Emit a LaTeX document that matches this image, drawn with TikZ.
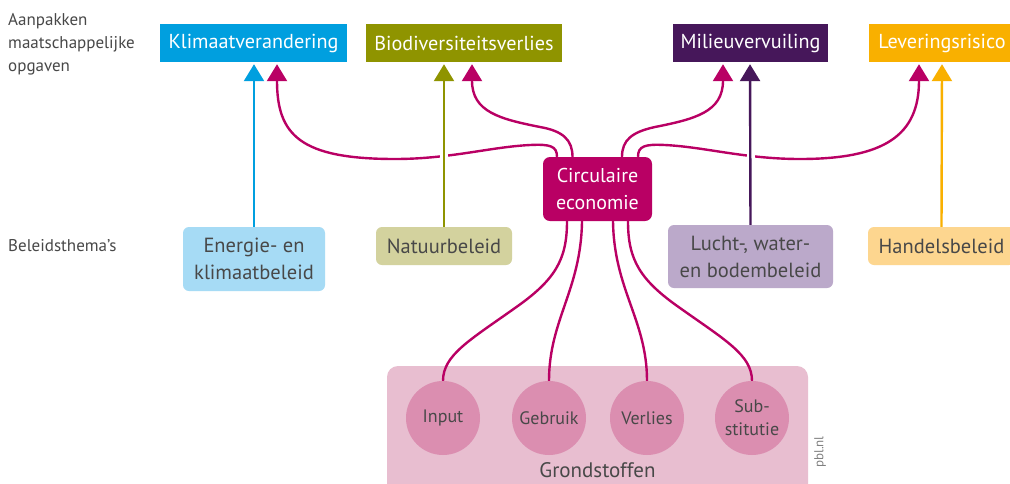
\documentclass[tikz,border=0pt]{standalone}
\usepackage{fontspec}
\setmainfont{PT Sans}
\usetikzlibrary{arrows.meta,calc}
\definecolor{cyanC}{RGB}{0,159,223}
\definecolor{oliveC}{RGB}{143,148,0}
\definecolor{purpleC}{RGB}{70,23,90}
\definecolor{orangeC}{RGB}{249,176,0}
\definecolor{magC}{RGB}{185,0,100}
\definecolor{lcyan}{RGB}{166,219,245}
\definecolor{lolive}{RGB}{211,210,158}
\definecolor{lpurple}{RGB}{187,169,202}
\definecolor{lorange}{RGB}{253,214,143}
\definecolor{lpink}{RGB}{232,190,208}
\definecolor{cpink}{RGB}{219,142,176}
\definecolor{txtgrey}{RGB}{72,72,72}
\tikzset{
  topbox/.style={draw=none, text=white, minimum height=38pt, inner sep=0pt,
    font=\fontsize{20.2}{24}\selectfont},
  polbox/.style={draw=none, rounded corners=6pt, text=txtgrey, align=center, inner sep=0pt,
    font=\fontsize{20.5}{27}\selectfont},
  circbox/.style={circle, fill=cpink, minimum size=74pt, inner sep=0pt, text=txtgrey,
    align=center, font=\fontsize{18}{23}\selectfont},
  sidelabel/.style={inner sep=0pt, text=txtgrey, align=left, font=\fontsize{17}{23}\selectfont},
  magline/.style={draw=magC, line width=2.4pt},
  magarrow/.style={magline, -{Triangle[width=20pt,length=17pt]}},
  polarrow/.style={line width=2.4pt, -{Triangle[width=20pt,length=17pt]}},
  gapline/.style={draw=white, line width=8pt}
}
\begin{document}
\begin{tikzpicture}[x=1pt,y=-1pt]
\clip (0,0) rectangle (1010,483);
\fill[white] (0,0) rectangle (1010,483);

% side labels
\node[sidelabel, anchor=north west] (lab1) at (8,13.5) {Aanpakken\\maatschappelijke\\opgaven};
\node[sidelabel, anchor=west] (lab2) at (8,246) {Beleidsthema’s};

% top boxes
\node[topbox, fill=cyanC, minimum width=187pt] (kv) at (253.5,43) {Klimaatverandering};
\node[topbox, fill=oliveC, minimum width=196pt] (bv) at (464,43) {Biodiversiteitsverlies};
\node[topbox, fill=purpleC, minimum width=155pt] (mv) at (750.5,43) {Milieuvervuiling};
\node[topbox, fill=orangeC, minimum width=146pt] (lr) at (942,43) {Leveringsrisico};

% policy boxes
\node[polbox, fill=lcyan, minimum width=142pt, minimum height=64pt] (eb) at (254,259) {Energie- en\\klimaatbeleid};
\node[polbox, fill=lolive, minimum width=136pt, minimum height=38pt] (nb) at (444,246) {Natuurbeleid};
\node[polbox, fill=lpurple, minimum width=165pt, minimum height=63pt] (lb) at (750.5,256.5) {Lucht-, water-\\en bodembeleid};
\node[polbox, fill=lorange, minimum width=147pt, minimum height=38pt] (hb) at (941.5,246) {Handelsbeleid};

% circular economy
\node[draw=none, fill=magC, rounded corners=7pt, minimum width=109pt, minimum height=64pt,
  text=white, align=center, inner sep=0pt, font=\fontsize{20}{27}\selectfont] (ce) at (597.5,189) {Circulaire\\economie};

% raw materials
\node[draw=none, fill=lpink, rounded corners=11pt, minimum width=421pt, minimum height=140pt, inner sep=0pt] (gs) at (597.5,436) {};
\node[inner sep=0pt, text=txtgrey, font=\fontsize{21}{24}\selectfont] (gst) at (597.5,470.5) {Grondstoffen};
\node[circbox] (in) at (443,418) {Input};
\node[circbox] (ge) at (549,418) {Gebruik};
\node[circbox] (ve) at (647,418) {Verlies};
\node[circbox] (su) at (752,418) {Sub-\\stitutie};
\node[rotate=90, inner sep=0pt, text=gray, font=\fontsize{13}{15}\selectfont] (pbl) at (820,452) {pbl.nl};

% coordinates on ce
\coordinate (ct1) at ($(ce.north)+(-40.5,0)$);
\coordinate (ct2) at ($(ce.north)+(-25,0)$);
\coordinate (ct3) at ($(ce.north)+(24.5,0)$);
\coordinate (ct4) at ($(ce.north)+(40.5,0)$);
\coordinate (cb1) at ($(ce.south)+(-30.5,0)$);
\coordinate (cb2) at ($(ce.south)+(-15.5,0)$);
\coordinate (cb3) at ($(ce.south)+(15.5,0)$);
\coordinate (cb4) at ($(ce.south)+(30.5,0)$);
\coordinate (kvm) at ($(kv.south)+(23.5,2)$);
\coordinate (bvm) at ($(bv.south)+(8,2)$);
\coordinate (mvm) at ($(mv.south)+(-27.5,2)$);
\coordinate (lrm) at ($(lr.south)+(-23,2)$);

% magenta curves to the top
\draw[magarrow] (ct1) .. controls (557,146) and (550,144) .. (530,145)
  .. controls (490,147) and (450,159) .. (395,159)
  .. controls (300,159) and (277,135) .. (kvm);
\draw[magarrow] (ct2) .. controls (572.5,140) and (563,131) .. (540,127)
  .. controls (500,119) and (472,112) .. (bvm);
\draw[magarrow] (ct3) .. controls (622,140) and (632,132) .. (655,127)
  .. controls (695,119) and (723,112) .. (mvm);
\draw[magarrow] (ct4) .. controls (638,146) and (645,144) .. (665,145)
  .. controls (705,147) and (745,159) .. (800,159)
  .. controls (885,159) and (919,135) .. (lrm);

% magenta curves to the raw materials
\draw[magline] (cb1) .. controls (567,260) and (555,280) .. (515,308)
  .. controls (470,340) and (443,355) .. (in.north);
\draw[magline] (cb2) .. controls (581,290) and (549,320) .. (ge.north);
\draw[magline] (cb3) .. controls (614,290) and (647,320) .. (ve.north);
\draw[magline] (cb4) .. controls (628,260) and (640,280) .. (680,308)
  .. controls (725,340) and (752,355) .. (su.north);

% gaps at crossings
\draw[gapline] ($(nb.north)+(0,-45)$) -- ($(bv.south)+(-20,45)$);
\draw[gapline] ($(lb.north)+(0,-45)$) -- ($(mv.south)+(0,45)$);

% policy arrows
\draw[polarrow, draw=cyanC, fill=cyanC] (eb.north) -- ($(kv.south)+(0.5,2)$);
\draw[polarrow, draw=oliveC, fill=oliveC] (nb.north) -- ($(bv.south)+(-20,2)$);
\draw[polarrow, draw=purpleC, fill=purpleC] (lb.north) -- ($(mv.south)+(-0.5,2)$);
\draw[polarrow, draw=orangeC, fill=orangeC] (hb.north) -- ($(lr.south)+(0,2)$);
\end{tikzpicture}
\end{document}
